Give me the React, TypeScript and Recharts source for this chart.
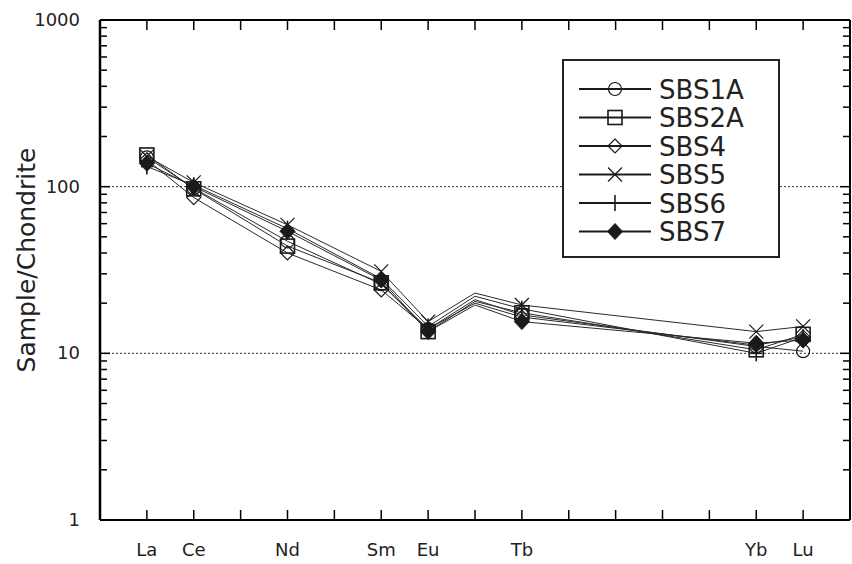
import React from 'react'
import { LineChart, Line, XAxis, YAxis, ReferenceLine, Legend } from 'recharts'

const elements = ['La', 'Ce', 'Pr', 'Nd', 'Pm', 'Sm', 'Eu', 'Gd', 'Tb', 'Dy', 'Ho', 'Er', 'Tm', 'Yb', 'Lu']
const measured = ['La', 'Ce', 'Nd', 'Sm', 'Eu', 'Gd', 'Tb', 'Yb', 'Lu']
const labeled = ['La', 'Ce', 'Nd', 'Sm', 'Eu', 'Tb', 'Yb', 'Lu']
const unmarked = ['Gd']

const sbs1a = [150, 98, 47, 26, 14, 21, 17, 11, 10.3]
const sbs2a = [155, 97, 44, 26.5, 13.5, 20.5, 17.5, 10.5, 13]
const sbs4 = [145, 86, 40, 24, 14, 20, 16.5, 11.2, 12.5]
const sbs5 = [152, 106, 59, 31, 15.5, 23, 19.5, 13.5, 14.5]
const sbs6 = [132, 102, 56, 28, 14.5, 22, 18.5, 10, 12.5]
const sbs7 = [138, 100, 54, 27.5, 13.5, 19.5, 15.5, 11.5, 12]

const seriesNames = ['SBS1A', 'SBS2A', 'SBS4', 'SBS5', 'SBS6', 'SBS7']
const seriesValues = [sbs1a, sbs2a, sbs4, sbs5, sbs6, sbs7]
const seriesMarkers = ['circle', 'square', 'diamond', 'cross', 'plus', 'filledDiamond']

const majorTicks = [1, 10, 100, 1000]
const yTicks = [1, 2, 3, 4, 5, 6, 7, 8, 9, 10, 20, 30, 40, 50, 60, 70, 80, 90, 100, 200, 300, 400, 500, 600, 700, 800, 900, 1000]
const xTicks = elements.map((_, i) => i)

const data = measured.map((el, i) => {
  const row: Record<string, number | string> = { el, pos: elements.indexOf(el) }
  seriesNames.forEach((name, s) => { row[name] = seriesValues[s][i] })
  return row
})

const FONT = '"DejaVu Sans", sans-serif'
const INK = '#1a1a1a'

function Marker({ kind, cx, cy }: { kind: string; cx: number; cy: number }) {
  const sw = 1.2
  switch (kind) {
    case 'circle':
      return <circle cx={cx} cy={cy} r={6.5} fill="none" stroke={INK} strokeWidth={sw} />
    case 'square':
      return <rect x={cx - 7} y={cy - 7} width={14} height={14} fill="none" stroke={INK} strokeWidth={1.6} />
    case 'diamond':
      return <polygon points={`${cx},${cy - 7} ${cx + 7},${cy} ${cx},${cy + 7} ${cx - 7},${cy}`} fill="none" stroke={INK} strokeWidth={sw} />
    case 'cross':
      return (
        <g stroke={INK} strokeWidth={sw}>
          <line x1={cx - 7} y1={cy - 7} x2={cx + 7} y2={cy + 7} />
          <line x1={cx - 7} y1={cy + 7} x2={cx + 7} y2={cy - 7} />
        </g>
      )
    case 'plus':
      return (
        <g stroke={INK} strokeWidth={1.6}>
          <line x1={cx} y1={cy - 8} x2={cx} y2={cy + 8} />
          <line x1={cx - 6} y1={cy} x2={cx + 6} y2={cy} />
        </g>
      )
    default:
      return <polygon points={`${cx},${cy - 8} ${cx + 7.5},${cy} ${cx},${cy + 8} ${cx - 7.5},${cy}`} fill={INK} stroke={INK} strokeWidth={1} />
  }
}

const makeDot = (kind: string, name: string) => (p: any) => {
  const key = `${name}-${p.index}`
  if (unmarked.includes(p.payload?.el) || p.cx == null || p.cy == null) return <g key={key} />
  return <g key={key}><Marker kind={kind} cx={p.cx} cy={p.cy} /></g>
}

function LeftTick(p: any) {
  const v = p.payload.value
  const major = majorTicks.includes(v)
  return (
    <g>
      <line x1={p.x} y1={p.y} x2={p.x + (major ? 10 : 7)} y2={p.y} stroke="#000" strokeWidth={1.5} />
      {major && (
        <text x={p.x - 20} y={p.y} dy={6} textAnchor="end" fontSize={18} fontFamily={FONT} fill="#222">
          {v}
        </text>
      )}
    </g>
  )
}

function RightTick(p: any) {
  const major = majorTicks.includes(p.payload.value)
  return <line x1={p.x} y1={p.y} x2={p.x - (major ? 10 : 7)} y2={p.y} stroke="#000" strokeWidth={1.5} />
}

function BottomTick(p: any) {
  const name = elements[p.payload.value]
  return (
    <g>
      <line x1={p.x} y1={p.y} x2={p.x} y2={p.y - 10} stroke="#000" strokeWidth={1.5} />
      {labeled.includes(name) && (
        <text x={p.x} y={p.y + 36} textAnchor="middle" fontSize={18} fontFamily={FONT} fill="#222">
          {name}
        </text>
      )}
    </g>
  )
}

function TopTick(p: any) {
  return <line x1={p.x} y1={p.y} x2={p.x} y2={p.y + 10} stroke="#000" strokeWidth={1.5} />
}

function YTitle(props: any) {
  const vb = props.viewBox || { x: 0, y: 20, height: 500 }
  const cx = vb.x + 35
  const cy = vb.y + vb.height / 2 - 10
  return (
    <text transform={`translate(${cx},${cy}) rotate(-90)`} textAnchor="middle" fontSize={25} fontFamily={FONT} fill="#222">
      Sample/Chondrite
    </text>
  )
}

function LegendBox() {
  return (
    <svg width={218} height={199}>
      <rect x={1} y={1} width={216} height={197} fill="#fff" stroke="#222" strokeWidth={2} />
      {seriesNames.map((name, i) => {
        const cy = 30 + i * 28.5
        return (
          <g key={name}>
            <line x1={17} y1={cy} x2={89} y2={cy} stroke={INK} strokeWidth={1.8} />
            <Marker kind={seriesMarkers[i]} cx={53} cy={cy} />
            <text x={97} y={cy + 9.5} fontSize={26} fontFamily={FONT} fill="#222">{name}</text>
          </g>
        )
      })}
    </svg>
  )
}

export default function App() {
  return (
    <div style={{ position: 'absolute', left: 0, top: 0, width: 852, height: 564, background: '#fff' }}>
      <LineChart width={852} height={564} data={data} margin={{ top: 0, right: 0, bottom: 0, left: 0 }}>
        <XAxis
          dataKey="pos"
          type="number"
          domain={[-1, 15]}
          ticks={xTicks}
          interval={0}
          height={44}
          tickSize={0}
          tickMargin={0}
          tickLine={false}
          axisLine={{ stroke: '#000', strokeWidth: 2 }}
          tick={BottomTick}
        />
        <XAxis
          xAxisId="top"
          orientation="top"
          dataKey="pos"
          type="number"
          domain={[-1, 15]}
          ticks={xTicks}
          interval={0}
          height={20}
          tickSize={0}
          tickMargin={0}
          tickLine={false}
          axisLine={{ stroke: '#000', strokeWidth: 2 }}
          tick={TopTick}
        />
        <YAxis
          type="number"
          scale="log"
          domain={[1, 1000]}
          allowDataOverflow
          ticks={yTicks}
          interval={0}
          width={100}
          tickSize={0}
          tickMargin={0}
          tickLine={false}
          axisLine={{ stroke: '#000', strokeWidth: 2.5 }}
          tick={LeftTick}
          label={{ content: YTitle }}
        />
        <YAxis
          yAxisId="right"
          orientation="right"
          type="number"
          scale="log"
          domain={[1, 1000]}
          allowDataOverflow
          ticks={yTicks}
          interval={0}
          width={2}
          tickSize={0}
          tickMargin={0}
          tickLine={false}
          axisLine={{ stroke: '#000', strokeWidth: 2 }}
          tick={RightTick}
        />
        <ReferenceLine y={100} stroke="#333" strokeDasharray="2 2" strokeWidth={1} />
        <ReferenceLine y={10} stroke="#333" strokeDasharray="2 2" strokeWidth={1} />
        {seriesNames.map((name, i) => (
          <Line
            key={name}
            type="linear"
            dataKey={name}
            name={name}
            stroke="#2a2a2a"
            strokeWidth={1}
            dot={makeDot(seriesMarkers[i], name)}
            activeDot={false}
            connectNulls
            isAnimationActive={false}
          />
        ))}
        <Legend
          layout="vertical"
          align="center"
          verticalAlign="middle"
          content={() => <LegendBox />}
          wrapperStyle={{ left: 562, top: 59, width: 218, height: 199 }}
        />
      </LineChart>
    </div>
  )
}
